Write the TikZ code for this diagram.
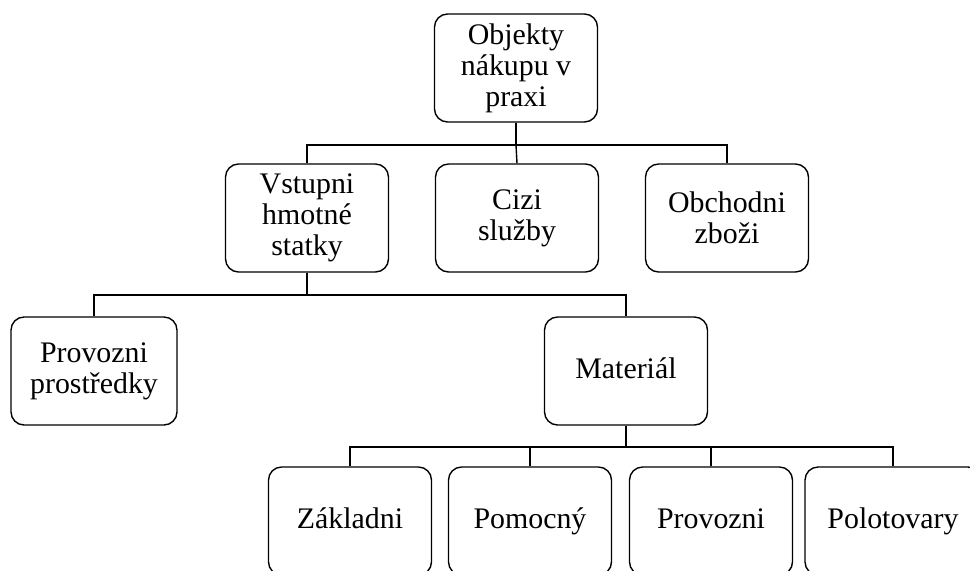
\documentclass[tikz,border=0pt]{standalone}
\usepackage{fontspec}
\setmainfont{Liberation Serif}
\usetikzlibrary{positioning}

\begin{document}
\begin{tikzpicture}[x=0.02cm,y=-0.02cm,
    box/.style={draw,rounded corners=2.6mm,line width=0.8pt,minimum width=3.26cm,
      minimum height=2.16cm,inner sep=0pt,align=center,
      font=\fontsize{17}{17.6}\selectfont},
    leaf/.style={box,text height=11.5pt,text depth=3.5pt},
    conn/.style={line width=0.8pt}]
    \useasboundingbox (0,0) rectangle (970,571);

    \node (root) at (516,68) [box]{
      Objekty\\
      nákupu v\\
      praxi
    };

    \node (vstup) at (307,218) [box]{
      Vstupni\\
      hmotné\\
      statky
    };
    \node (cizi) at (517,218) [box]{
      Cizi\\
      služby
    };
    \node (obchod) at (727,218) [box]{
      Obchodni\\
      zboži
    };

    \node (prostr) at (94,371) [box,minimum width=3.32cm]{
      Provozni\\
      prostředky
    };
    \node (mater) at (626,371) [leaf]{Materiál};

    \node (zaklad) at (350,521) [leaf]{Základni};
    \node (pomoc) at (530,521) [leaf]{Pomocný};
    \node (provoz) at (711,521) [leaf]{Provozni};
    \node (polot) at (893,521) [leaf,minimum width=3.52cm]{Polotovary};

    \coordinate (bus1) at (root.south |- 0,145);
    \coordinate (bus2) at (vstup.south |- 0,295);
    \coordinate (bus3) at (mater.south |- 0,447);

    \draw[conn] (root.south) -- (bus1);
    \draw[conn] (vstup.north) |- (bus1) -| (obchod.north);
    \draw[conn] (bus1) -- (cizi.north);

    \draw[conn] (vstup.south) -- (bus2);
    \draw[conn] (prostr.north) |- (bus2) -| (mater.north);

    \draw[conn] (mater.south) -- (bus3);
    \draw[conn] (zaklad.north) |- (bus3) -| (polot.north);
    \draw[conn] (pomoc.north) |- (bus3);
    \draw[conn] (provoz.north) |- (bus3);
  \end{tikzpicture}
\end{document}
